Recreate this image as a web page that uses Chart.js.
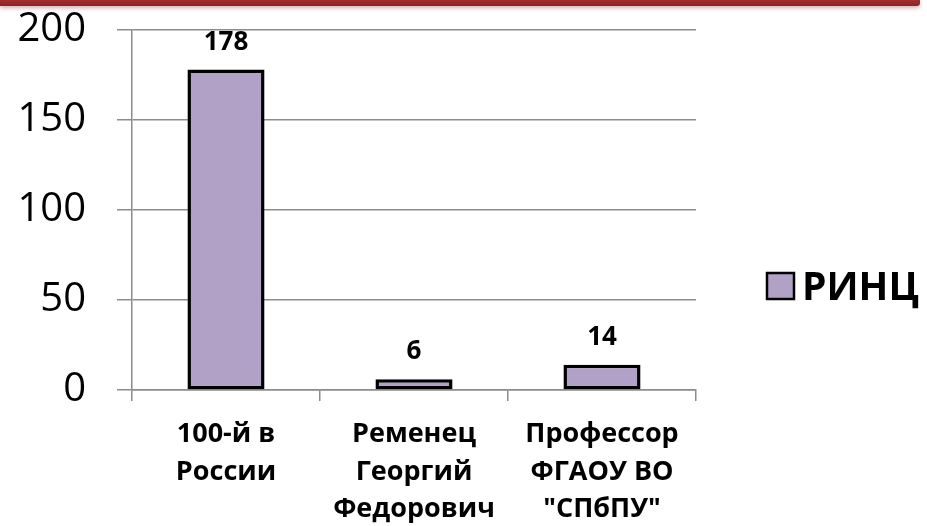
<!DOCTYPE html>
<html>
<head>
<meta charset="utf-8">
<script src="https://cdn.jsdelivr.net/npm/chart.js@4.4.0/dist/chart.umd.min.js"></script>
<style>
  html, body { margin: 0; padding: 0; background: #fff; }
  #wrap { position: relative; width: 927px; height: 526px; }
  #band { position: absolute; left: 0; top: 0; width: 920px; height: 6px;
          background: linear-gradient(#a32e2e, #8f2222);
          box-shadow: 0 2px 4px rgba(120,30,30,0.35); border-radius: 0 0 3px 0; }
  canvas { display: block; }
</style>
</head>
<body>
<div id="wrap">
  <div id="band"></div>
  <canvas id="chart1" width="927" height="526"></canvas>
</div>
<script>
var categories = [
    ["100-й в", "России"],
    ["Ременец", "Георгий", "Федорович"],
    ["Профессор", "ФГАОУ ВО", "\"СПбПУ\""]
];
var seriesName = "РИНЦ";
var rincValues = [178, 6, 14];
var yTicks = [0, 50, 100, 150, 200];

var barColor = "#b2a1c7";
var gridColor = "#8c8c8c";
var fontName = "'Open Sans', 'Noto Sans', sans-serif";

// value labels above bars
var valueLabels = {
    id: "valueLabels",
    afterDatasetsDraw: function (chart) {
        var ctx = chart.ctx;
        var meta = chart.getDatasetMeta(0);
        ctx.save();
        ctx.font = "bold 26px " + fontName;
        ctx.fillStyle = "#000";
        ctx.textAlign = "center";
        ctx.textBaseline = "alphabetic";
        meta.data.forEach(function (bar, i) {
            ctx.fillText(String(rincValues[i]), bar.x, bar.y - 20);
        });
        ctx.restore();
    }
};

// legend on the right
var sideLegend = {
    id: "sideLegend",
    afterDraw: function (chart) {
        var ctx = chart.ctx;
        var x = chart.chartArea.right + 71;
        var yc = 286;
        ctx.save();
        ctx.fillStyle = barColor;
        ctx.strokeStyle = "#000";
        ctx.lineWidth = 2.5;
        ctx.fillRect(x, yc - 13, 27, 26);
        ctx.strokeRect(x, yc - 13, 27, 26);
        ctx.font = "bold 39px " + fontName;
        ctx.fillStyle = "#000";
        ctx.textAlign = "left";
        ctx.textBaseline = "alphabetic";
        ctx.fillText(seriesName, x + 35, yc + 14);
        ctx.restore();
    }
};

var ctx_chart1 = document.getElementById("chart1").getContext("2d");
var chart1 = new Chart(ctx_chart1, {
    type: "bar",
    data: {
        labels: categories,
        datasets: [{
            label: seriesName,
            data: rincValues,
            backgroundColor: barColor,
            borderColor: "#000",
            borderWidth: 3.5,
            borderSkipped: false,
            categoryPercentage: 1,
            barPercentage: 0.41
        }]
    },
    options: {
        responsive: false,
        animation: false,
        layout: { autoPadding: false, padding: { top: 30, right: 231, left: 0, bottom: 0 } },
        plugins: {
            legend: { display: false },
            tooltip: { enabled: false }
        },
        scales: {
            x: {
                afterFit: function (scale) {
                    scale.height = 136;
                    scale.paddingLeft = 0;
                    scale.paddingRight = 0;
                },
                grid: {
                    offset: true,
                    drawOnChartArea: false,
                    color: gridColor,
                    lineWidth: 1.5,
                    tickLength: 11
                },
                border: { color: gridColor, width: 1.5 },
                ticks: {
                    color: "#000",
                    padding: 15,
                    maxRotation: 0,
                    autoSkip: false,
                    font: { family: fontName, size: 27, weight: "bold", lineHeight: 1.38 }
                }
            },
            y: {
                min: 0,
                max: 200,
                afterFit: function (scale) {
                    scale.width = 132;
                    scale.paddingTop = 0;
                    scale.paddingBottom = 0;
                },
                afterBuildTicks: function (scale) {
                    scale.ticks = yTicks.map(function (v) { return { value: v }; });
                },
                grid: {
                    color: gridColor,
                    lineWidth: 1.5,
                    tickLength: 15
                },
                border: { color: gridColor, width: 1.5 },
                ticks: {
                    color: "#000",
                    padding: 31,
                    font: { family: fontName, size: 40 }
                }
            }
        }
    },
    plugins: [valueLabels, sideLegend]
});
</script>
</body>
</html>
